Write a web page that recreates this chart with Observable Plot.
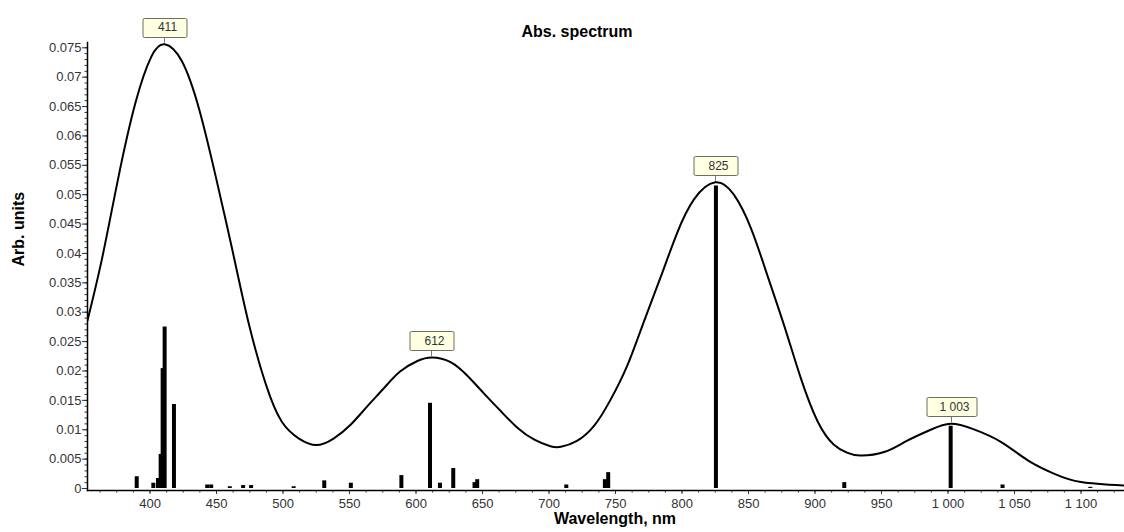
<!DOCTYPE html>
<html><head><meta charset="utf-8">
<script src="https://cdn.jsdelivr.net/npm/d3@7"></script>
<script src="https://cdn.jsdelivr.net/npm/@observablehq/plot@0.6"></script>
<style>html,body{margin:0;padding:0;background:#fff;} #chart svg{display:block}</style>
</head><body><div id="chart"></div>
<script>
// Simulated absorption envelope (nm, arb. units)
const curveNm  = [353, 364, 376, 389, 401, 411, 424, 437, 449, 462, 474, 487, 499, 512, 525, 538, 551, 563, 576, 588, 601, 612, 626, 639, 651, 664, 676, 689, 701, 709, 721, 734, 746, 759, 771, 784, 796, 809, 825, 839, 852, 864, 877, 889, 902, 914, 924, 934, 952, 969, 987, 1002, 1019, 1040, 1060, 1080, 1100, 1132];
const curveVal = [0.0286, 0.0392, 0.0527, 0.0656, 0.0735, 0.0756, 0.0727, 0.0645, 0.0535, 0.0405, 0.0283, 0.0178, 0.0114, 0.0085, 0.0074, 0.0085, 0.0109, 0.0139, 0.0171, 0.0199, 0.0217, 0.0223, 0.0215, 0.0191, 0.0162, 0.0131, 0.0104, 0.0083, 0.0072, 0.0071, 0.0081, 0.0107, 0.0150, 0.0210, 0.0282, 0.0360, 0.0433, 0.0492, 0.0521, 0.0500, 0.0442, 0.0364, 0.0276, 0.0190, 0.0114, 0.0075, 0.0061, 0.0056, 0.0062, 0.0081, 0.0100, 0.0110, 0.0101, 0.0079, 0.0048, 0.0025, 0.0011, 0.0005];

// Transition sticks
const stickNm  = [390, 402.5, 406, 408, 409.5, 411, 418, 443, 446, 460, 470, 476, 508, 531, 551, 589, 610.5, 618, 628, 644, 646, 713, 742, 744.5, 825.5, 922, 1002, 1041, 1107];
const stickVal = [0.002, 0.0009, 0.0017, 0.0058, 0.0204, 0.0275, 0.0143, 0.0006, 0.0006, 0.0003, 0.0005, 0.0005, 0.0003, 0.0013, 0.0009, 0.0022, 0.0145, 0.0009, 0.0034, 0.001, 0.0015, 0.0006, 0.0015, 0.0027, 0.0515, 0.001, 0.0106, 0.0006, 0.0002];

// Peak labels
const peakNm    = [411, 612, 825, 1003];
const peakVal   = [0.0756, 0.0223, 0.0521, 0.011];
const peakLabel = ["411", "612", "825", "1 003"];

// Axis ticks
const xTicks      = [400, 450, 500, 550, 600, 650, 700, 750, 800, 850, 900, 950, 1000, 1050, 1100];
const xTickLabels = ["400", "450", "500", "550", "600", "650", "700", "750", "800", "850", "900", "950", "1 000", "1 050", "1 100"];
const yTicks      = [0, 0.005, 0.01, 0.015, 0.02, 0.025, 0.03, 0.035, 0.04, 0.045, 0.05, 0.055, 0.06, 0.065, 0.07, 0.075];
const yTickLabels = ["0", "0.005", "0.01", "0.015", "0.02", "0.025", "0.03", "0.035", "0.04", "0.045", "0.05", "0.055", "0.06", "0.065", "0.07", "0.075"];

const title = "Abs. spectrum";
const xLabel = "Wavelength, nm";
const yLabel = "Arb. units";

const curve = curveNm.map((x, i) => ({x, y: curveVal[i]}));
const sticks = stickNm.map((x, i) => ({x, y: stickVal[i]}));
const peaks = peakNm.map((x, i) => ({x, y: peakVal[i], label: peakLabel[i]}));
const xMinor = d3.range(362.5, 1133, 12.5);
const yMinor = d3.range(0, 0.0756, 0.001);

const chart = Plot.plot({
  width: 1124,
  height: 532,
  marginLeft: 87,
  marginRight: 0,
  marginTop: 42,
  marginBottom: 42,
  style: {fontFamily: "'Liberation Sans', Arial, sans-serif", background: "#fff"},
  x: {domain: [353, 1132.7], label: null},
  y: {domain: [-0.00034, 0.0759], label: null},
  marks: [
    Plot.axisX({ticks: xMinor, tickSize: 2.5, tickFormat: () => "", stroke: "#333", label: null}),
    Plot.axisY({ticks: yMinor, tickSize: 2.5, tickFormat: () => "", stroke: "#333", label: null}),
    Plot.axisX({ticks: xTicks, tickSize: 4, tickPadding: 4, fontSize: 13, color: "#333", label: null,
      tickFormat: d => xTickLabels[xTicks.indexOf(d)]}),
    Plot.axisY({ticks: yTicks, tickSize: 5, tickPadding: 1, fontSize: 13, color: "#333", label: null,
      tickFormat: d => yTickLabels[yTicks.indexOf(d)]}),
    Plot.ruleX(sticks, {x: "x", y1: 0, y2: "y", stroke: "#000", strokeWidth: 4}),
    Plot.line(curve, {x: "x", y: "y", curve: "natural", stroke: "#000", strokeWidth: 2, clip: true}),
    Plot.frame({anchor: "left", stroke: "#000", strokeWidth: 1.5}),
    Plot.frame({anchor: "bottom", stroke: "#000", strokeWidth: 1.5}),
    Plot.text(peaks, {
      x: "x", y: "y", text: "label",
      render(index, scales, values) {
        const g = d3.create("svg:g");
        for (const i of index) {
          const cx = Math.round(values.x[i]) + 0.5;
          const cy = values.y[i];
          const lab = peaks[i].label;
          const w = 35 + 3 * lab.length;
          g.append("line").attr("x1", cx).attr("x2", cx).attr("y1", cy - 7).attr("y2", cy - 1)
            .attr("stroke", "#777").attr("stroke-width", 1);
          g.append("rect").attr("x", Math.round(cx - w / 2)).attr("y", Math.round(cy - 26) + 0.5)
            .attr("width", w).attr("height", 19).attr("fill", "#ffffe1")
            .attr("stroke", "#6e6e5e").attr("stroke-width", 1).attr("rx", 1.5);
          g.append("text").attr("x", cx + 3).attr("y", cy - 16.5).attr("dy", "0.35em")
            .attr("text-anchor", "middle").attr("font-size", 12).attr("fill", "#333")
            .attr("font-family", "'Liberation Sans', Arial, sans-serif").text(lab);
        }
        return g.node();
      }
    }),
    Plot.text([title], {frameAnchor: "top", dy: -17, dx: -29, fontWeight: "bold", fontSize: 16, fill: "#000"}),
    Plot.text([xLabel], {frameAnchor: "bottom", dy: 33, dx: 9, fontWeight: "bold", fontSize: 16, fill: "#000"}),
    Plot.text([yLabel], {frameAnchor: "left", dx: -69, rotate: -90, fontWeight: "bold", fontSize: 16, fill: "#000"})
  ]
});
document.getElementById("chart").appendChild(chart);
</script>
</body></html>
